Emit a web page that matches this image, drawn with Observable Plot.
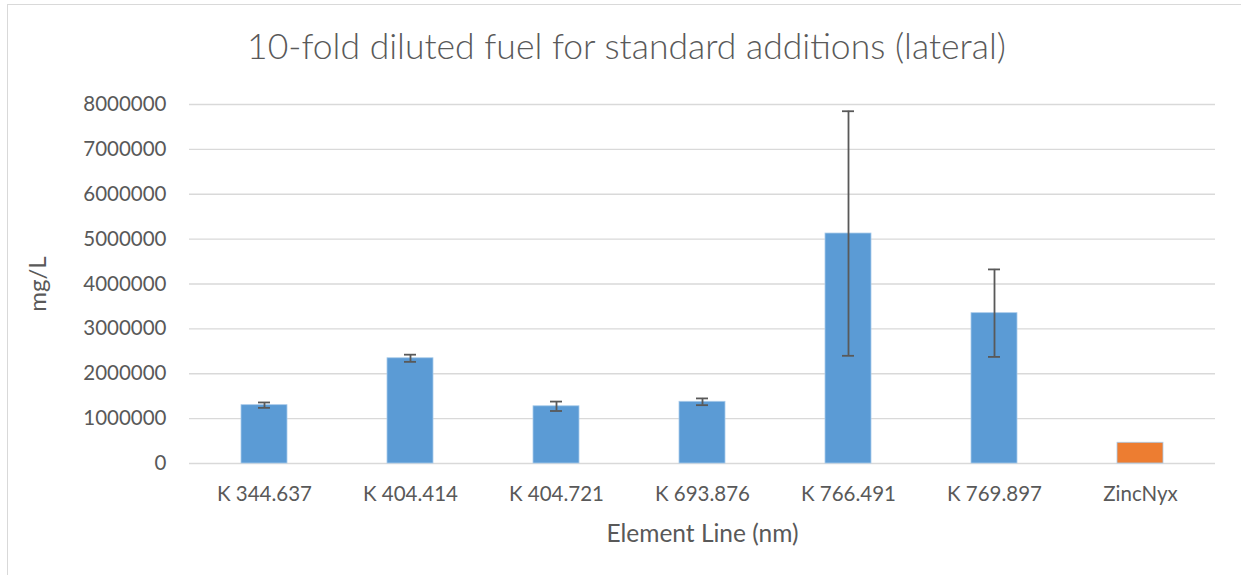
<!DOCTYPE html>
<html>
<head>
<meta charset="utf-8">
<script src="https://cdn.jsdelivr.net/npm/d3@7"></script>
<script src="https://cdn.jsdelivr.net/npm/@observablehq/plot@0.6"></script>
<style>
  body { margin: 0; background: #fff; }
  #chart { position: relative; width: 1241px; height: 575px; overflow: hidden; font-family: Lato, "Open Sans", sans-serif; }
  #frame { position: absolute; left: 7px; top: 4px; width: 1300px; height: 700px; border: 1.5px solid #d9d9d9; box-sizing: border-box; pointer-events: none; }
  #chart svg { position: absolute; left: 0; top: 0; }
</style>
</head>
<body>
<div id="chart"><div id="frame"></div></div>
<script>
// Emission lines measured, and the reference standard
const lines = ["K 344.637", "K 404.414", "K 404.721", "K 693.876", "K 766.491", "K 769.897", "ZincNyx"];
// Series each bar belongs to
const series = ["K", "K", "K", "K", "K", "K", "ZincNyx"];
// Concentration (mg/L)
const values = [1300000, 2345000, 1275000, 1375000, 5125000, 3350000, 462000];
// Error (± mg/L); the reference bar has none
const errors = [60000, 80000, 105000, 75000, 2725000, 975000, null];
// Y axis ticks
const yTicks = [0, 1000000, 2000000, 3000000, 4000000, 5000000, 6000000, 7000000, 8000000];

const title = "10-fold diluted fuel for standard additions (lateral)";
const xLabel = "Element Line (nm)";
const yLabel = "mg/L";

const data = lines.map((line, i) => ({line, series: series[i], value: values[i], error: errors[i]}));
const withErr = data.filter(d => d.error != null);

const textColor = "#595959";

const chart = Plot.plot({
  width: 1241,
  height: 575,
  marginLeft: 189,
  marginRight: 26,
  marginTop: 104,
  marginBottom: 112,
  style: {fontFamily: "Lato, 'Open Sans', sans-serif", color: textColor, background: "transparent"},
  x: {domain: lines, paddingInner: 0.686, paddingOuter: 0.343, label: null},
  y: {domain: [0, 8000000], label: null},
  color: {domain: ["K", "ZincNyx"], range: ["#5B9BD5", "#ED7D31"]},
  marks: [
    Plot.gridY(yTicks, {stroke: "#d9d9d9", strokeOpacity: 1, strokeWidth: 1.4}),
    Plot.axisY(yTicks, {tickSize: 0, tickPadding: 23, tickFormat: d3.format("d"), fontSize: 20.5, label: null}),
    Plot.axisX({tickSize: 0, tickPadding: 23, fontSize: 20.5, label: null}),
    Plot.barY(data, {x: "line", y: "value", fill: "series", stroke: "#a9cbea", strokeWidth: 0.8}),
    Plot.ruleX(withErr, {x: "line", y1: d => d.value - d.error, y2: d => d.value + d.error, stroke: "#595959", strokeWidth: 1.8}),
    Plot.tickY(withErr, {x: "line", y: d => d.value + d.error, insetLeft: 17, insetRight: 17, stroke: "#595959", strokeWidth: 1.8}),
    Plot.tickY(withErr, {x: "line", y: d => d.value - d.error, insetLeft: 17, insetRight: 17, stroke: "#595959", strokeWidth: 1.8}),
    Plot.text([title], {frameAnchor: "top", dx: -76, dy: -57, fontSize: 35.5, fontWeight: 300, fill: textColor, lineAnchor: "middle"}),
    Plot.text([xLabel], {frameAnchor: "bottom", dy: 71, fontSize: 24.5, fill: textColor, lineAnchor: "middle"}),
    Plot.text([yLabel], {frameAnchor: "left", dx: -151, dy: 0, rotate: -90, fontSize: 24, fill: textColor, textAnchor: "middle", lineAnchor: "middle"})
  ]
});

document.getElementById("chart").appendChild(chart);
</script>
</body>
</html>
